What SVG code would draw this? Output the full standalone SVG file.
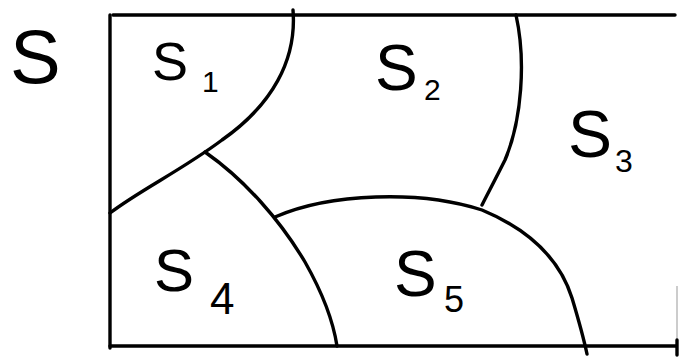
<svg xmlns="http://www.w3.org/2000/svg" width="679" height="358" viewBox="0 0 679 358">
<style>
.ln{fill:none;stroke:#000;stroke-width:3.4;stroke-linecap:round;stroke-linejoin:round}
.t{font-family:"Liberation Sans",Arial,sans-serif;fill:#000}
</style>
<rect width="679" height="358" fill="#fff"/>
<g id="frame">
<path class="ln" d="M113,15 L675,15"/>
<path class="ln" d="M110,15 L110,348"/>
<path class="ln" d="M110,346 L676,346"/>
<path d="M677,286 L677,340" stroke="#bbb" stroke-width="1.5" fill="none"/>
<path class="ln" d="M677,340 L677,355"/>
</g>
<g id="boundaries">
<path class="ln" d="M293,10 C297,60 272,105 222,140 C182,170 140,190 110,213"/>
<path class="ln" d="M205,152 C245,180 280,220 305,262 C322,292 333,320 337,346"/>
<path class="ln" d="M275,217 C330,193 420,190 482,210 C530,230 560,260 572,298 C578,318 583,335 587,354"/>
<path class="ln" d="M516,15 C526,60 522,120 505,160 C495,180 487,195 482,205"/>
</g>
<g id="labels">
<text class="t" x="10" y="83" font-size="76">S</text>
<text class="t" x="152" y="80" font-size="54">S</text><text class="t" x="202" y="92" font-size="30">1</text>
<text class="t" x="375" y="90" font-size="64">S</text><text class="t" x="424" y="100" font-size="30">2</text>
<text class="t" x="568" y="157" font-size="66">S</text><text class="t" x="615" y="172" font-size="32">3</text>
<text class="t" x="154" y="291" font-size="60">S</text><text class="t" x="210" y="314" font-size="44">4</text>
<text class="t" x="394" y="296" font-size="64">S</text><text class="t" x="444" y="312" font-size="36">5</text>
</g>
</svg>
